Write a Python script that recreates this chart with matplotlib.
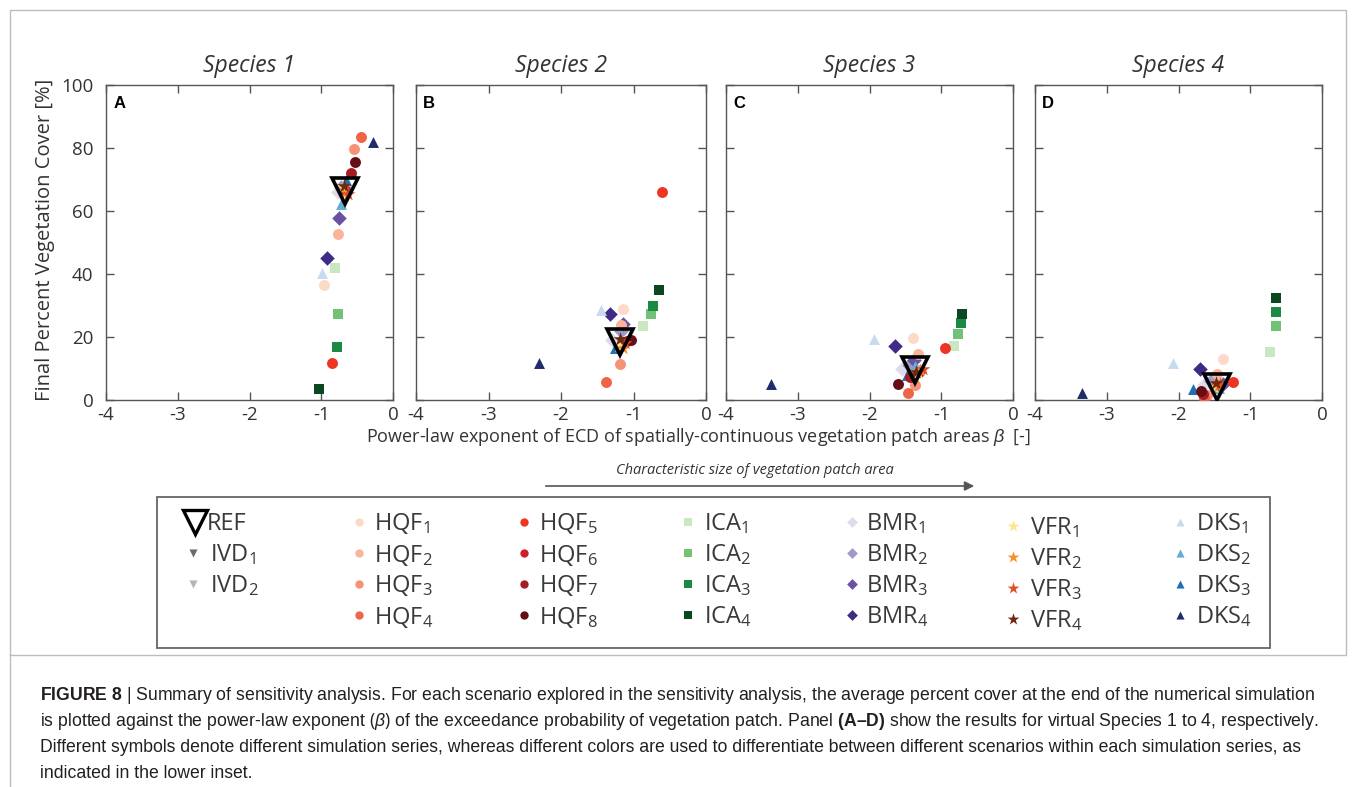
import matplotlib
matplotlib.use('Agg')
import matplotlib.pyplot as plt
from matplotlib.patches import Rectangle

plt.rcParams['font.family'] = ['Open Sans', 'DejaVu Sans']
plt.rcParams['axes.unicode_minus'] = False
plt.rcParams['mathtext.fontset'] = 'custom'
plt.rcParams['mathtext.rm'] = 'Open Sans'
plt.rcParams['mathtext.it'] = 'Liberation Sans:italic'
plt.rcParams['mathtext.bf'] = 'Liberation Sans:bold'

# ---------------- data ----------------
species_titles = ['Species 1', 'Species 2', 'Species 3', 'Species 4']
panel_letters = ['A', 'B', 'C', 'D']
xticks = [-4, -3, -2, -1, 0]
xtick_labels = ['-4', '-3', '-2', '-1', '0']
yticks = [0, 20, 40, 60, 80, 100]
ytick_labels = ['0', '20', '40', '60', '80', '100']

# REF scenario (beta, cover) per species
REF_beta = [-0.67, -1.18, -1.36, -1.47]
REF_cover = [66.5, 18.5, 9.5, 4.2]

# IVD (2 scenarios), rows = species
IVD_beta = [[-0.68, -0.66], [-1.18, -1.16], [-1.36, -1.34], [-1.47, -1.46]]
IVD_cover = [[67.0, 66.5], [18.0, 18.5], [9.0, 9.5], [4.5, 4.0]]

# HQF (8 scenarios)
HQF_beta = [[-0.96, -0.77, -0.54, -0.45, -0.85, -0.67, -0.59, -0.53],
            [-1.14, -1.17, -1.18, -1.38, -0.61, -1.14, -1.09, -1.03],
            [-1.39, -1.32, -1.37, -1.46, -0.95, -1.31, -1.43, -1.60],
            [-1.38, -1.47, -1.60, -1.64, -1.24, -1.47, -1.66, -1.69]]
HQF_cover = [[36.5, 52.7, 79.6, 83.6, 11.8, 66.7, 72.0, 75.4],
             [28.9, 23.8, 11.4, 5.8, 66.1, 18.3, 18.7, 19.0],
             [19.8, 14.6, 4.8, 2.1, 16.4, 9.0, 7.4, 5.0],
             [13.0, 8.3, 1.6, 0.6, 5.8, 4.8, 2.0, 3.0]]

# ICA (4 scenarios)
ICA_beta = [[-0.81, -0.77, -0.78, -1.03],
            [-0.87, -0.76, -0.73, -0.65],
            [-0.82, -0.76, -0.73, -0.71],
            [-0.73, -0.64, -0.64, -0.64]]
ICA_cover = [[41.8, 27.4, 16.7, 3.4],
             [23.6, 27.2, 29.9, 34.9],
             [17.1, 21.0, 24.3, 27.3],
             [15.3, 23.5, 27.8, 32.3]]

# BMR (4 scenarios)
BMR_beta = [[-0.77, -0.72, -0.75, -0.92],
            [-1.30, -1.17, -1.15, -1.32],
            [-1.55, -1.45, -1.38, -1.65],
            [-1.65, -1.55, -1.38, -1.70]]
BMR_cover = [[66.0, 67.5, 57.9, 45.0],
             [19.0, 22.0, 24.0, 27.2],
             [10.0, 11.0, 12.8, 17.1],
             [4.8, 6.0, 5.0, 9.9]]

# VFR (4 scenarios)
VFR_beta = [[-0.70, -0.66, -0.63, -0.68],
            [-1.20, -1.15, -1.12, -1.18],
            [-1.32, -1.30, -1.26, -1.35],
            [-1.50, -1.45, -1.42, -1.48]]
VFR_cover = [[67.5, 66.0, 65.5, 68.0],
             [17.0, 16.5, 18.0, 19.5],
             [8.5, 9.5, 9.8, 9.0],
             [4.0, 4.5, 5.0, 5.5]]

# DKS (4 scenarios)
DKS_beta = [[-0.99, -0.73, -0.65, -0.28],
            [-1.45, -1.22, -1.26, -2.31],
            [-1.94, -1.37, -1.48, -3.37],
            [-2.07, -1.44, -1.80, -3.35]]
DKS_cover = [[40.4, 62.2, 70.0, 81.8],
             [28.6, 17.5, 16.4, 11.6],
             [19.3, 10.8, 7.9, 5.1],
             [11.6, 3.7, 3.4, 2.1]]

# colours per scenario
IVD_colors = ['#6b6b6b', '#b5b5b5']
HQF_colors = ['#fdd9c7', '#fbb499', '#f79276', '#ef6548', '#ee3524', '#cf1f26', '#a51c23', '#670d16']
ICA_colors = ['#c9e7c1', '#72c275', '#1b8a44', '#0b4820']
BMR_colors = ['#dcdcec', '#9e9ac8', '#6a51a3', '#3f2a85']
VFR_colors = ['#fde48f', '#f6912b', '#df4f28', '#6d2a10']
DKS_colors = ['#c6dbef', '#66abd8', '#1f6fb5', '#1d2c6c']

series = [
    ('IVD', IVD_beta, IVD_cover, IVD_colors, 'v', 60),
    ('ICA', ICA_beta, ICA_cover, ICA_colors, 's', 62),
    ('BMR', BMR_beta, BMR_cover, BMR_colors, 'D', 55),
    ('DKS', DKS_beta, DKS_cover, DKS_colors, '^', 62),
    ('HQF', HQF_beta, HQF_cover, HQF_colors, 'o', 62),
    ('VFR', VFR_beta, VFR_cover, VFR_colors, '*', 110),
]

# ---------------- figure ----------------
W, H = 1356, 787
fig = plt.figure(figsize=(W / 100, H / 100), dpi=100)
fig.patch.set_facecolor('white')

panel_px = [(106, 393), (416, 706), (726, 1013), (1035, 1322)]
top_px, bot_px = 85, 400
tick_col = '#333333'
spine_col = '#555555'

for k in range(4):
    l, r = panel_px[k]
    ax = fig.add_axes([l / W, 1 - bot_px / H, (r - l) / W, (bot_px - top_px) / H])
    for name, bx, cy, cols, mk, sz in series:
        for j in range(len(cols)):
            ax.scatter(bx[k][j], cy[k][j], s=sz, marker=mk, color=cols[j],
                       linewidths=0, zorder=3)
    ax.plot(REF_beta[k], REF_cover[k], marker='v', ms=19, mfc='none', mec='black',
            mew=2.6, ls='none', zorder=5)
    ax.set_xlim(-4, 0)
    ax.set_ylim(0, 100)
    ax.set_xticks(xticks)
    ax.set_xticklabels(xtick_labels)
    ax.set_yticks(yticks)
    if k == 0:
        ax.set_yticklabels(ytick_labels)
    else:
        ax.set_yticklabels([])
    ax.tick_params(direction='in', length=6, width=1, color=spine_col,
                   top=True, right=True, labelsize=13.5, labelcolor=tick_col)
    ax.tick_params(axis='x', pad=4)
    ax.tick_params(axis='y', pad=9)
    for sp in ax.spines.values():
        sp.set_color(spine_col)
        sp.set_linewidth(1)
    ax.text(0.025, 0.965, panel_letters[k], transform=ax.transAxes, ha='left', va='top',
            fontsize=12, fontweight='bold', color='black', family=['Liberation Sans', 'DejaVu Sans'])
    fig.text((l + r) / 2 / W, 1 - 66 / H, species_titles[k], ha='center', va='center',
             fontsize=16.5, fontstyle='italic', color='#333333')

fig.text(45 / W, 1 - 240 / H, 'Final Percent Vegetation Cover [%]', rotation=90,
         ha='center', va='center', fontsize=14.5, color='#333333')
fig.text(699 / W, 1 - 437 / H,
         r'Power-law exponent of ECD of spatially-continuous vegetation patch areas $\mathit{β}$  [-]',
         ha='center', va='center', fontsize=13, color='#333333')

# overlay in pixel coordinates for annotations / inset legend / frame
ov = fig.add_axes([0, 0, 1, 1])
ov.set_xlim(0, W)
ov.set_ylim(H, 0)
ov.axis('off')
ov.patch.set_visible(False)

# outer frame
ov.plot([10, 1346, 1346, 10, 10], [655, 655, 10, 10, 655], color='#bdbdbd', lw=1)
ov.plot([10, 10], [655, 787], color='#bdbdbd', lw=1)

# arrow + text
ov.text(755, 470, 'Characteristic size of vegetation patch area', ha='center', va='center',
        fontsize=10.5, fontstyle='italic', color='#333333')
ov.annotate('', xy=(977, 486), xytext=(543, 486),
            arrowprops=dict(arrowstyle='-|>', color='#555555', lw=1.2, mutation_scale=14))

# inset legend
ov.add_patch(Rectangle((157, 497), 1113, 151, fill=False, ec='#666666', lw=1.3))
rows = [522, 553, 584, 615]
leg_fs = 17
txt_col = '#3a3a3a'

ov.plot(195, 522, marker='v', ms=17, mfc='none', mec='black', mew=2.4, ls='none')
ov.text(207, 524, 'REF', ha='left', va='center', fontsize=leg_fs, color=txt_col)
for j in range(2):
    ov.scatter(193, rows[j + 1], s=34, marker='v', color=IVD_colors[j], linewidths=0)
    ov.text(210, rows[j + 1] + 2, 'IVD$_{%d}$' % (j + 1), ha='left', va='center',
            fontsize=leg_fs, color=txt_col)

cols_spec = [
    ('HQF', HQF_colors[:4], 'o', 359, 374, 0, 36),
    ('HQF', HQF_colors[4:], 'o', 524, 539, 4, 36),
    ('ICA', ICA_colors, 's', 688, 704, 0, 34),
    ('BMR', BMR_colors, 'D', 852, 866, 0, 30),
    ('VFR', VFR_colors, '*', 1013, 1030, 0, 80),
    ('DKS', DKS_colors, '^', 1180, 1196, 0, 34),
]
for name, cl, mk, mx, tx, off, ms in cols_spec:
    for j in range(4):
        yy = rows[j] + (4 if name == 'VFR' else 0)
        ov.scatter(mx, yy, s=ms, marker=mk, color=cl[j], linewidths=0)
        ov.text(tx, yy + 2, '%s$_{%d}$' % (name, j + 1 + off), ha='left', va='center',
                fontsize=leg_fs, color=txt_col)

# caption
cap_font = ['Liberation Sans', 'DejaVu Sans']
cap_col = '#231f20'
cap_lines = [
    r'$\mathbf{FIGURE\ 8}$ | Summary of sensitivity analysis. For each scenario explored in the sensitivity analysis, the average percent cover at the end of the numerical simulation',
    r'is plotted against the power-law exponent $\mathit{(β)}$ of the exceedance probability of vegetation patch. Panel $\mathbf{(A–D)}$ show the results for virtual Species 1 to 4, respectively.',
    'Different symbols denote different simulation series, whereas different colors are used to differentiate between different scenarios within each simulation series, as',
    'indicated in the lower inset.',
]
cap_y = [695, 721, 747, 773]
for t, yy in zip(cap_lines, cap_y):
    ov.text(40, yy, t, ha='left', va='center', fontsize=12.7, color=cap_col, family=cap_font)

fig.savefig('out.png', dpi=100, facecolor='white')
